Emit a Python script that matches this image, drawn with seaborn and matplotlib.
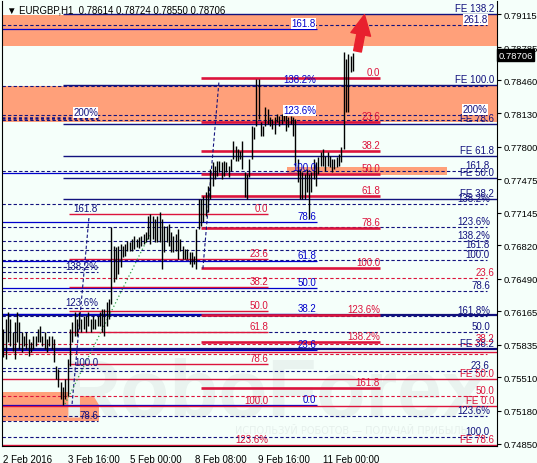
import matplotlib
matplotlib.use("Agg")
import matplotlib.pyplot as plt
from matplotlib import transforms
import pandas as pd
import seaborn as sns

symbol_header = "EURGBP,H1  0.78614 0.78724 0.78550 0.78706"
last_price = 0.78706

# hourly bars (high / low)
bar_high = [
    0.7599, 0.7609, 0.7616, 0.7609, 0.7596, 0.7606, 0.7616, 0.7606, 0.7596, 0.7592, 0.7596,
    0.7589, 0.7586, 0.7592, 0.7592, 0.7599, 0.7602, 0.7592, 0.7596, 0.7589, 0.7592, 0.7592,
    0.7589, 0.7562, 0.7559, 0.7546, 0.7542, 0.7549, 0.7569, 0.7599, 0.7606, 0.7616,
    0.7609, 0.7616, 0.7609, 0.7612, 0.7612, 0.7616, 0.7609, 0.7612, 0.7609, 0.7612, 0.7616, 0.7619,
    0.7619, 0.7626, 0.7629, 0.7700, 0.7681, 0.7680, 0.7681, 0.7683, 0.7681, 0.7683,
    0.7686, 0.7685, 0.7688, 0.7691, 0.7688, 0.7690, 0.7691, 0.7693, 0.7695, 0.7711, 0.7713,
    0.7711, 0.7708, 0.7711, 0.7715, 0.7708, 0.7701, 0.7701, 0.7703, 0.7695, 0.7691, 0.7693,
    0.7698, 0.7688, 0.7681, 0.7678, 0.7678, 0.7675, 0.7675, 0.7671, 0.7698, 0.7728,
    0.7728, 0.7731, 0.7735, 0.7741, 0.7758, 0.7765, 0.7761, 0.7766, 0.7766, 0.7765,
    0.7766, 0.7765, 0.7761, 0.7768, 0.7786, 0.7781, 0.7778, 0.7776, 0.7786, 0.7755,
    0.7753, 0.7768, 0.7800, 0.7799, 0.7847, 0.7847, 0.7804, 0.7800, 0.7819, 0.7817,
    0.7809, 0.7807, 0.7809, 0.7812, 0.7810, 0.7812, 0.7815, 0.7814, 0.7809, 0.7810,
    0.7809, 0.7807, 0.7768, 0.7758, 0.7755, 0.7753, 0.7758, 0.7753, 0.7755, 0.7768,
    0.7765, 0.7770, 0.7775, 0.7778, 0.7771, 0.7775, 0.7771, 0.7768, 0.7768, 0.7770,
    0.7773, 0.7780, 0.7874, 0.7867, 0.7872, 0.7870, 0.78724,
]
bar_low = [
    0.7571, 0.7569, 0.7586, 0.7582, 0.7577, 0.7569, 0.7586, 0.7579, 0.7576, 0.7582, 0.7579,
    0.7572, 0.7576, 0.7579, 0.7582, 0.7586, 0.7586, 0.7582, 0.7579, 0.7576, 0.7582, 0.7579,
    0.7566, 0.7549, 0.7542, 0.7530, 0.7524, 0.7530, 0.7533, 0.7562, 0.7586, 0.7592,
    0.7592, 0.7599, 0.7596, 0.7599, 0.7596, 0.7602, 0.7596, 0.7599, 0.7599, 0.7602, 0.7602, 0.7596,
    0.7592, 0.7602, 0.7609, 0.7624, 0.7646, 0.7649, 0.7654, 0.7661, 0.7670, 0.7671,
    0.7676, 0.7676, 0.7676, 0.7678, 0.7680, 0.7679, 0.7681, 0.7683, 0.7685, 0.7688, 0.7683,
    0.7688, 0.7685, 0.7685, 0.7685, 0.7659, 0.7675, 0.7685, 0.7681, 0.7675, 0.7675, 0.7676,
    0.7668, 0.7676, 0.7668, 0.7668, 0.7668, 0.7664, 0.7661, 0.7664, 0.7659, 0.7698,
    0.7701, 0.7705, 0.7711, 0.7715, 0.7728, 0.7741, 0.7748, 0.7751, 0.7755, 0.7748,
    0.7751, 0.7755, 0.7750, 0.7756, 0.7768, 0.7766, 0.7766, 0.7768, 0.7758, 0.7730,
    0.7728, 0.7750, 0.7768, 0.7788, 0.7800, 0.7807, 0.7790, 0.7790, 0.7800, 0.7802,
    0.7800, 0.7797, 0.7792, 0.7804, 0.7800, 0.7802, 0.7805, 0.7795, 0.7799, 0.7802,
    0.7790, 0.7761, 0.7745, 0.7728, 0.7728, 0.7728, 0.7735, 0.7708, 0.7735, 0.7748,
    0.7741, 0.7753, 0.7761, 0.7761, 0.7756, 0.7761, 0.7760, 0.7755, 0.7758, 0.7760,
    0.7761, 0.7765, 0.7778, 0.7814, 0.7814, 0.7854, 0.78550,
]

time_labels = ["2 Feb 2016", "3 Feb 16:00", "5 Feb 00:00", "8 Feb 08:00", "9 Feb 16:00", "11 Feb 00:00"]
time_pos = [0, 28.1, 55.1, 83.3, 110.7, 139]
price_ticks = [0.79115, 0.78785, 0.78460, 0.78130, 0.77800, 0.77475, 0.77145,
               0.76820, 0.76490, 0.76165, 0.75835, 0.75510, 0.75180, 0.74850]

# salmon zones (low, high)
zones = [(0.78798, 0.79105), (0.78044, 0.78401), (0.77518, 0.77597), (0.75078, 0.75365)]

# fibo levels
fe_navy = [0.79115, 0.78411, 0.78024, 0.77707, 0.77488, 0.77280]
navy_thick = [0.76129, 0.75792]
navy_dashed = [0.79006, 0.78401, 0.78113, 0.78064, 0.77558, 0.77230, 0.77002, 0.76863,
               0.76774, 0.76675, 0.76367, 0.76119, 0.75961, 0.75574, 0.75127, 0.74919]
navy_short = [0.76605, 0.76556, 0.76199, 0.75604, 0.75078]
navy_dotted = [0.78084]
blue_levels = [0.78966, 0.77538, 0.77052, 0.76665, 0.76397, 0.76139, 0.75782, 0.75237]
red_thick = [0.78480, 0.78044, 0.77756, 0.77528, 0.77310, 0.76992, 0.76596, 0.76129, 0.75861, 0.75405]
red_thin = [0.77131, 0.76685, 0.76407, 0.76169, 0.75961, 0.75643]
red_full = [0.75762, 0.75494, 0.75227, 0.74840]
red_dashed = [0.76496, 0.75842, 0.75742, 0.75326]

# labels (text, level)
fe_labels = [("FE 138.2", 0.79115), ("FE 100.0", 0.78411), ("FE 78.6", 0.78024), ("FE 61.8", 0.77707),
             ("FE 50.0", 0.77488), ("FE 38.2", 0.77280), ("FE 38.2", 0.75792)]
right_navy_labels = [("161.8", 0.77558), ("138.2%", 0.77230), ("123.6%", 0.77002), ("138.2%", 0.76863),
                     ("161.8", 0.76774), ("100.0", 0.76675), ("78.6", 0.76367), ("161.8%", 0.76119),
                     ("50.0", 0.75961), ("23.6", 0.75574), ("123.6%", 0.75127), ("100.0", 0.74919)]
right_boxed_labels = [("261.8", 0.79006), ("200%", 0.78113)]
right_red_labels = [("23.6", 0.76496), ("38.2", 0.75842), ("FE 50.0", 0.75494), ("50.0", 0.75326),
                    ("FE 0.0", 0.75227), ("FE 78.6", 0.74840)]
blue_labels = [("138.2%", 0.78411), ("100.0", 0.77538), ("78.6", 0.77052), ("61.8", 0.76665),
               ("50.0", 0.76397), ("38.2", 0.76139), ("23.6", 0.75782), ("0.0", 0.75237)]
blue_boxed_labels = [("161.8", 0.78966), ("123.6%", 0.78103)]
red_mid_labels = [("0.0", 0.78480), ("23.6", 0.78044), ("38.2", 0.77756), ("50.0", 0.77528),
                  ("61.8", 0.77310), ("78.6", 0.76992), ("100.0", 0.76596), ("123.6%", 0.76129),
                  ("138.2%", 0.75861), ("161.8", 0.75405)]
red_left_labels = [("0.0", 0.77131), ("23.6", 0.76685), ("38.2", 0.76407), ("50.0", 0.76169),
                   ("61.8", 0.75961), ("78.6", 0.75643), ("100.0", 0.75227), ("123.6%", 0.74840)]
navy_left_labels = [("161.8", 0.77131), ("138.2%", 0.76556), ("123.6%", 0.76199),
                    ("100.0", 0.75604), ("78.6", 0.75078)]
navy_left_boxed = [("200%", 0.78084)]

# trend lines (bar, price)
trend_a = pd.DataFrame({"bar": [29.9, 37.3], "price": [0.75247, 0.77111]})
trend_b = pd.DataFrame({"bar": [86.8, 93.8], "price": [0.76590, 0.78450]})
trend_green = pd.DataFrame({"bar": [26.8, 63.8], "price": [0.75246, 0.76933]})

BG = "#F5FFFA"
NAVY = "#12127e"
BLUE = "#0000CC"
RED = "#DC143C"
SALMON = "#FFA07A"

sns.set_style("white", {"axes.facecolor": BG, "figure.facecolor": BG})
plt.rcParams["font.family"] = ["Liberation Sans", "DejaVu Sans"]

fig = plt.figure(figsize=(5.37, 4.64), dpi=100)
ax = fig.add_axes([2 / 537, 17 / 464, 495 / 537, 445 / 464])
ax.set_facecolor(BG)
X0, X1 = -0.57, 214.7
ax.set_xlim(X0, X1)
ax.set_ylim(0.74830, 0.79244)

# zones
zone_span = [(X0, X1), (X0, X1), (123.3, 193.0), (X0, 41.6)]
for (lo, hi), (a, b) in zip(zones, zone_span):
    ax.fill_between([a, b], lo, hi, color=SALMON, lw=0, zorder=1)

# watermark
ax.text(26, 0.75127, "RoboForex", fontsize=58, fontweight="bold", color="#E9F3EF",
        ha="left", va="baseline", zorder=1.5)
ax.text(100.7, 0.74989, "ИСПОЛЬЗУЙ РОБОТОВ — ПОЛУЧАЙ ПРИБЫЛЬ", fontsize=7, color="#E6F0EC",
        ha="left", va="center", zorder=1.5, family=["DejaVu Sans"])

dash = (0, (3, 2))
ax.hlines(navy_dashed, X0, 210.3, colors=NAVY, lw=0.8, linestyles=[dash], zorder=2)
ax.hlines(navy_short, X0, 41.2, colors=NAVY, lw=0.8, linestyles=[dash], zorder=2)
ax.hlines(navy_dotted, X0, 41.2, colors=NAVY, lw=1.8, linestyles=[(0, (1.2, 1))], zorder=2)
ax.hlines(red_dashed, X0, 210.3, colors=RED, lw=0.8, linestyles=[dash], zorder=2)
ax.hlines(fe_navy, 26.0, X1, colors=NAVY, lw=1.0, zorder=2.5)
ax.hlines(navy_thick, X0, X1, colors=NAVY, lw=1.6, zorder=2.5)
ax.hlines(blue_levels, X0, 136.4, colors=BLUE, lw=0.9, zorder=2.5)
ax.hlines(red_full, X0, X1, colors=RED, lw=1.0, zorder=2.5)
ax.hlines(red_thin, 28.6, 115.1, colors=RED, lw=1.0, zorder=2.6)
ax.hlines(red_thick, 86.0, 163.8, colors=RED, lw=1.9, zorder=2.6)

# trend lines
sns.lineplot(data=trend_a, x="bar", y="price", ax=ax, color=NAVY, lw=0.8, linestyle=(0, (3, 2)), zorder=3)
sns.lineplot(data=trend_b, x="bar", y="price", ax=ax, color=NAVY, lw=0.8, linestyle=(0, (3, 2)), zorder=3)
sns.lineplot(data=trend_green, x="bar", y="price", ax=ax, color="#2E9E4A", lw=0.9, linestyle=(0, (1, 2)), zorder=3)

# price bars
ax.vlines(range(len(bar_high)), bar_low, bar_high, colors="black", lw=1.0, zorder=4)

def put_labels(items, x, color, box=False):
    for txt, lv in items:
        kw = {}
        if box:
            kw["bbox"] = dict(fc="white", ec="none", pad=0.3)
        ax.text(x, lv + 0.00008, txt, ha="right", va="bottom", fontsize=7, color=color, zorder=6, **kw)

put_labels(fe_labels, 213.4, NAVY)
put_labels(right_navy_labels, 211.6, NAVY)
put_labels(right_boxed_labels, 210.6, NAVY, box=True)
put_labels(right_red_labels, 213.4, RED)
put_labels(blue_labels, 136.0, BLUE)
put_labels(blue_boxed_labels, 136.0, BLUE, box=True)
put_labels(red_mid_labels, 163.8, RED)
put_labels(red_left_labels, 115.1, RED)
put_labels(navy_left_labels, 41.2, NAVY)
put_labels(navy_left_boxed, 41.2, NAVY, box=True)

# arrow
ax.annotate("", xy=(157.3, 0.79135), xytext=(153.8, 0.78718),
            arrowprops=dict(arrowstyle="simple,head_length=0.9,head_width=0.9,tail_width=0.35",
                            color="#E8202E", mutation_scale=16), zorder=7)

# header
ax.text(0.01, 0.982, "\u25bc " + symbol_header, transform=ax.transAxes, fontsize=6.9,
        color="black", ha="left", va="center", zorder=8)

# axes
ax.yaxis.tick_right()
ax.set_yticks(price_ticks)
ax.set_yticklabels([f"{p:.5f}" for p in price_ticks])
ax.set_xticks(time_pos)
ax.set_xticklabels(time_labels)
for lbl in ax.get_xticklabels():
    lbl.set_ha("left")
ax.tick_params(axis="x", direction="out", length=4, width=0.8, labelsize=7,
               colors="black", pad=2)
ax.tick_params(axis="y", direction="out", length=3, width=0.8, labelsize=6.8,
               colors="black", pad=1.5, left=False, right=True)
for side in ["left", "bottom", "right"]:
    ax.spines[side].set_visible(True)
    ax.spines[side].set_color("black")
    ax.spines[side].set_linewidth(0.8)
ax.spines["top"].set_visible(False)
ax.set_xlabel("")
ax.set_ylabel("")

tr = transforms.blended_transform_factory(ax.transAxes, ax.transData)
ax.text(1.003, last_price, f"{last_price:.5f}", transform=tr, fontsize=6.8, color="white",
        ha="left", va="center", zorder=9, clip_on=False,
        bbox=dict(fc="black", ec="black", pad=1.0))

fig.savefig("out.png", dpi=100, facecolor=BG)
